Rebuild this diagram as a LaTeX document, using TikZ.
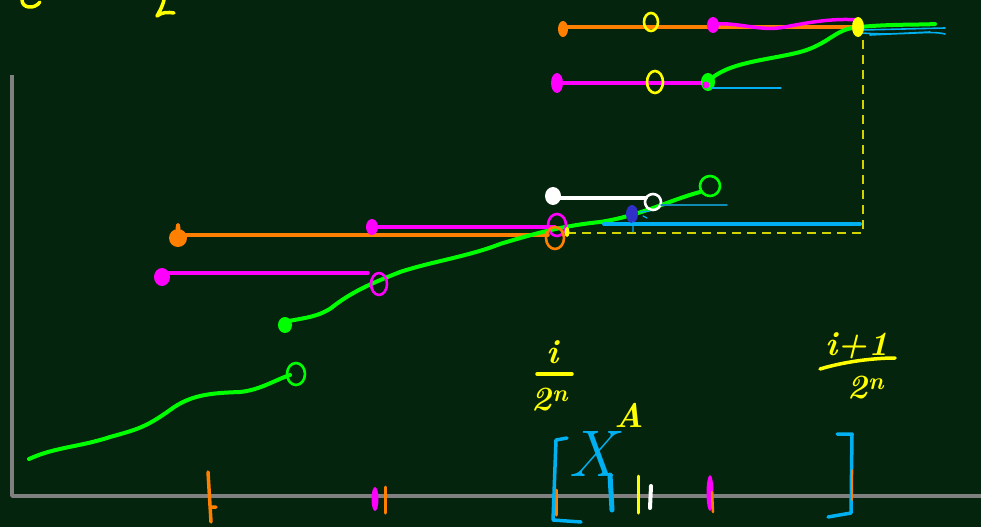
\documentclass[tikz,border=0pt]{standalone}
\usepackage{fontspec}
\begin{document}
\begin{tikzpicture}[x=1pt,y=-1pt,line cap=round,line join=round,
  pen/.style={line width=3.5pt},
  hole/.style={line width=2.6pt},
  lbl/.style={text=chalkyellow,inner sep=0pt,font=\fontsize{34}{36}\selectfont\bfseries\itshape}]
\definecolor{board}{RGB}{4,36,14}
\definecolor{chorange}{RGB}{255,128,0}
\definecolor{chmag}{RGB}{255,0,255}
\definecolor{chgreen}{RGB}{0,255,0}
\definecolor{chalkyellow}{RGB}{255,255,0}
\definecolor{chcyan}{RGB}{0,176,240}
\definecolor{chblue}{RGB}{48,48,200}
\definecolor{darkcyan}{RGB}{16,140,180}
\definecolor{axisgray}{RGB}{128,128,128}
\definecolor{dashyellow}{RGB}{210,210,0}
\fill[board] (0,0) rectangle (981,527);
\useasboundingbox (0,0) rectangle (981,527);
% axes
\draw[axisgray,line width=3.5pt,line cap=butt] (12,75) -- (12,496) -- (981,496);
% cut-off top-left glyphs
\draw[chalkyellow,pen] (22,0) .. controls (22,8) and (34,10) .. (40,2);
\draw[chalkyellow,pen] (164,0) .. controls (162,8) and (158,14) .. (157,16) .. controls (162,12) and (168,12) .. (174,13);
% dashed yellow guides
\draw[dashyellow,line width=2.5pt,dash pattern=on 9pt off 6pt,line cap=butt] (863,40) -- (863,233);
\draw[dashyellow,line width=2.5pt,dash pattern=on 9pt off 6pt,line cap=butt] (567,233) -- (865,233);
% ---------- top group
\draw[chorange,pen] (563,27) -- (858,27);
\fill[chorange] (563,29) ellipse (5pt and 8pt);
\draw[chalkyellow,hole] (651,22) ellipse (7pt and 9pt);
\draw[chmag,pen] (713,24) .. controls (740,22) and (760,32) .. (785,27) .. controls (810,22) and (835,18) .. (858,20);
\fill[chmag] (713,25) ellipse (6pt and 8pt);
\draw[chcyan,line width=1.6pt] (862,30) -- (945,28) (862,33) .. controls (900,36) and (930,30) .. (945,34) (870,35) -- (930,32);
\draw[chgreen,line width=4pt] (708,82) .. controls (725,62) and (770,60) .. (800,52) .. controls (830,44) and (835,28) .. (860,27) .. controls (890,24) and (920,25) .. (935,24);
\fill[chalkyellow] (858,27) ellipse (6pt and 10pt);
\draw[chmag,pen] (557,83) -- (708,83);
\fill[chmag] (557,83) ellipse (6pt and 10pt);
\draw[chalkyellow,hole] (655,82) ellipse (8pt and 11pt);
\fill[chgreen] (708,82) ellipse (7pt and 9pt);
\fill[chmag] (706,85) circle (3.5pt);
\draw[chcyan,line width=1.4pt] (712,88) -- (781,88);
% ---------- middle group
\draw[chorange,pen] (178,235) -- (548,235);
\fill[chorange] (178,238) circle (9pt);
\fill[chorange] (178,228) ellipse (2.5pt and 5pt);
\draw[chmag,pen] (372,227) -- (555,227);
\fill[chmag] (372,227) ellipse (6pt and 8pt);
\draw[chmag,pen] (162,273) -- (368,273);
\fill[chmag] (162,277) ellipse (8pt and 9pt);
\draw[chgreen,line width=4pt] (285,322) .. controls (300,318) and (320,318) .. (335,305) .. controls (355,290) and (375,282) .. (400,272) .. controls (430,262) and (470,256) .. (500,244) .. controls (530,235) and (560,226) .. (600,222) .. controls (640,216) and (670,200) .. (700,192);
\fill[chgreen] (285,325) ellipse (7pt and 8pt);
\draw[chgreen,hole] (710,186) ellipse (10pt and 10pt);
\draw[chmag,hole] (379,284) ellipse (8pt and 11pt);
\draw[chmag,hole] (557,225) ellipse (9pt and 11pt);
\draw[chorange,hole] (555,238) ellipse (9pt and 11pt);
\fill[chalkyellow] (567,232) ellipse (2.5pt and 5pt);
\draw[white,pen] (553,198) -- (646,198);
\fill[white] (553,196) ellipse (8pt and 9pt);
\draw[white,hole] (653,202) circle (8pt);
\draw[darkcyan,line width=1.5pt] (661,205) -- (727,205);
\draw[chcyan,line width=4pt] (604,224) -- (860,224);
\fill[chblue] (632,214) ellipse (6pt and 9pt);
\draw[chcyan,line width=1.2pt] (633,222) -- (633,232) (640,212) -- (650,211) (643,216) -- (647,218);
% lower green curve
\draw[chgreen,line width=4pt] (29,459) .. controls (55,447) and (80,447) .. (110,437) .. controls (135,430) and (145,428) .. (170,410) .. controls (190,395) and (210,393) .. (240,392) .. controls (260,390) and (275,380) .. (290,375);
\draw[chgreen,hole] (296,374) ellipse (9pt and 11pt);
% ---------- axis ticks
\draw[chorange,line width=3.5pt] (208,472) -- (211,522) (211,507) -- (216,507);
\fill[chmag] (375,499) ellipse (3.5pt and 12pt);
\draw[chorange,line width=3pt] (385,487) -- (385,513);
\draw[chorange,line width=3pt] (556,490) -- (556,515);
\draw[chcyan,line width=5pt] (610,475) -- (612,510);
\draw[chalkyellow,line width=3pt] (638,476) -- (638,513);
\draw[white,line width=4pt] (651,486) -- (650,508);
\fill[chmag] (710,493) ellipse (3.5pt and 18pt);
\draw[chorange,line width=2.5pt] (712,492) -- (713,512);
% ---------- brackets
\draw[chcyan,line width=3.5pt] (567,438) -- (556,440) -- (553,520) -- (581,522);
\draw[chcyan,line width=3.5pt] (837,434) -- (852,434) -- (851,513) -- (828,517);
\draw[chorange,line width=2pt] (852,470) -- (852,500);
% ---------- labels
\node[lbl] (inum) at (553,352) {i};
\draw[chalkyellow,line width=3.5pt] (537,374) -- (572,374);
\node[lbl] (iden) at (550,400) {2\textsuperscript{n}};
\node[lbl] (jnum) at (857,346) {i+1};
\draw[chalkyellow,line width=3.5pt] (820,369) .. controls (850,360) and (880,358) .. (895,358);
\node[lbl] (jden) at (866,388) {2\textsuperscript{n}};
\node[lbl,text=chcyan,font=\fontsize{66}{68}\selectfont\itshape] (xlab) at (592,454) {X};
\node[lbl] (alab) at (629,415) {A};
\end{tikzpicture}
\end{document}
